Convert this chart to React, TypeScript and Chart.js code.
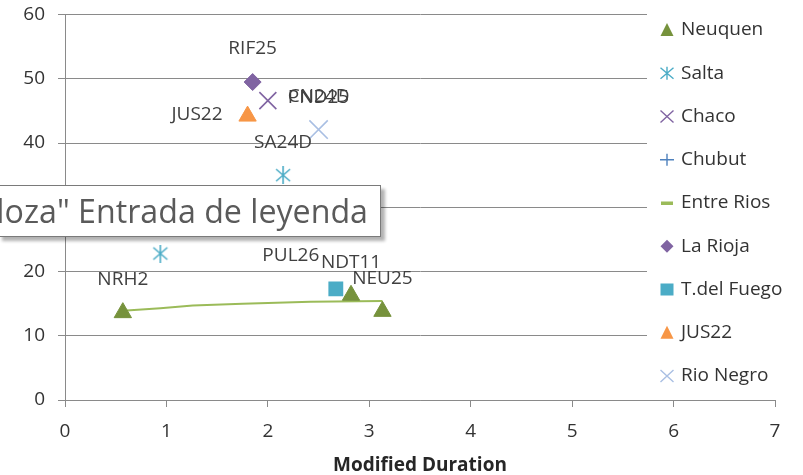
import React, { useEffect, useRef } from "react";
import { Chart, registerables } from "chart.js";

Chart.register(...registerables);

// ---------------- data ----------------
const xTickValues = [0, 1, 2, 3, 4, 5, 6, 7];
const yTickValues = [0, 10, 20, 30, 40, 50, 60];
const xAxisTitle = "Modified Duration";

const seriesNames = [
  "Neuquen",
  "Salta",
  "Chaco",
  "Chubut",
  "Entre Rios",
  "La Rioja",
  "T.del Fuego",
  "JUS22",
  "Rio Negro",
];

const neuquenX = [0.57, 2.82, 3.13];
const neuquenY = [13.6, 16.3, 13.8];
const neuquenLabels = ["NRH2", "NDT11", "NEU25"];

const saltaX = [2.15, 0.94];
const saltaY = [35.0, 22.8];
const saltaLabels = ["SA24D", ""];

const chacoX = [2.0];
const chacoY = [46.6];
const chacoLabels = ["PND25"];

const chubutX: number[] = [];
const chubutY: number[] = [];
const chubutLabels: string[] = [];

const entreRiosX = [0.57, 0.94, 1.26, 1.75, 2.42, 3.13];
const entreRiosY = [13.9, 14.3, 14.7, 15.0, 15.3, 15.4];

const laRiojaX = [1.85];
const laRiojaY = [49.5];
const laRiojaLabels = ["RIF25"];

const fuegoX = [2.67];
const fuegoY = [17.3];
const fuegoLabels = ["PUL26"];

const jusX = [1.8];
const jusY = [44.2];
const jusLabels = ["JUS22"];

const rioNegroX = [2.5];
const rioNegroY = [42.1];
const rioNegroLabels = ["CN24D"];

const hoverTipText = 'Serie "Mendoza" Entrada de leyenda';

// ---------------- styles ----------------
const FONT = "'Open Sans', 'Noto Sans', sans-serif";
const GRID = "#8a8a8a";
const TICK = "#333333";
const LABEL = "#404040";

const labelPlacement: Record<string, string> = {
  PND25: "right",
  JUS22: "left",
  PUL26: "aboveLeft",
};

const seriesStyle: Record<string, { marker: string; color: string }> = {
  Neuquen: { marker: "triangle", color: "#76923C" },
  Salta: { marker: "asterisk", color: "#4BACC6" },
  Chaco: { marker: "x", color: "#8064A2" },
  Chubut: { marker: "plus", color: "#4F81BD" },
  "Entre Rios": { marker: "line", color: "#9BBB59" },
  "La Rioja": { marker: "diamond", color: "#8064A2" },
  "T.del Fuego": { marker: "square", color: "#4BACC6" },
  JUS22: { marker: "triangle", color: "#F79646" },
  "Rio Negro": { marker: "x", color: "#A9BFE3" },
};

function pts(xs: number[], ys: number[]) {
  return xs.map((x, i) => ({ x, y: ys[i] }));
}

function makeAsterisk(color: string) {
  const c = document.createElement("canvas");
  c.width = 18;
  c.height = 18;
  const g = c.getContext("2d")!;
  g.strokeStyle = color;
  g.lineWidth = 1.6;
  g.beginPath();
  g.moveTo(2, 3);
  g.lineTo(16, 15);
  g.moveTo(16, 3);
  g.lineTo(2, 15);
  g.moveTo(9, 0);
  g.lineTo(9, 18);
  g.stroke();
  return c;
}

function drawLegendMarker(ctx: CanvasRenderingContext2D, kind: string, x: number, y: number, color: string) {
  ctx.save();
  ctx.fillStyle = color;
  ctx.strokeStyle = color;
  ctx.lineWidth = 1.4;
  ctx.beginPath();
  switch (kind) {
    case "triangle":
      ctx.moveTo(x, y - 7);
      ctx.lineTo(x + 6.5, y + 6);
      ctx.lineTo(x - 6.5, y + 6);
      ctx.closePath();
      ctx.fill();
      break;
    case "asterisk":
      ctx.moveTo(x - 6.5, y - 5.5);
      ctx.lineTo(x + 6.5, y + 5.5);
      ctx.moveTo(x + 6.5, y - 5.5);
      ctx.lineTo(x - 6.5, y + 5.5);
      ctx.moveTo(x, y - 6.5);
      ctx.lineTo(x, y + 6.5);
      ctx.stroke();
      break;
    case "x":
      ctx.moveTo(x - 6.5, y - 6);
      ctx.lineTo(x + 6.5, y + 6);
      ctx.moveTo(x + 6.5, y - 6);
      ctx.lineTo(x - 6.5, y + 6);
      ctx.stroke();
      break;
    case "plus":
      ctx.moveTo(x - 7, y);
      ctx.lineTo(x + 7, y);
      ctx.moveTo(x, y - 6);
      ctx.lineTo(x, y + 6);
      ctx.stroke();
      break;
    case "line":
      ctx.fillRect(x - 6, y - 1.5, 12, 3.5);
      break;
    case "diamond":
      ctx.moveTo(x, y - 6.5);
      ctx.lineTo(x + 6.5, y);
      ctx.lineTo(x, y + 6.5);
      ctx.lineTo(x - 6.5, y);
      ctx.closePath();
      ctx.fill();
      break;
    case "square":
      ctx.fillRect(x - 6.5, y - 6, 13, 12);
      break;
  }
  ctx.restore();
}

const pointLabelPlugin = {
  id: "pointLabels",
  afterDatasetsDraw(chart: any) {
    const ctx: CanvasRenderingContext2D = chart.ctx;
    ctx.save();
    ctx.font = `19px ${FONT}`;
    ctx.fillStyle = LABEL;
    ctx.textBaseline = "middle";
    chart.data.datasets.forEach((ds: any, di: number) => {
      const labels: string[] | undefined = ds.pointLabels;
      if (!labels) return;
      const meta = chart.getDatasetMeta(di);
      meta.data.forEach((el: any, i: number) => {
        const txt = labels[i];
        if (!txt) return;
        const place = labelPlacement[txt] || "above";
        let x = el.x;
        let y = el.y;
        if (place === "above") {
          ctx.textAlign = "center";
          y -= 33;
        } else if (place === "right") {
          ctx.textAlign = "left";
          x += 20;
          y -= 3;
        } else if (place === "left") {
          ctx.textAlign = "right";
          x -= 25;
          y -= 1;
        } else if (place === "aboveLeft") {
          ctx.textAlign = "center";
          x -= 45;
          y -= 33;
        }
        ctx.fillText(txt, x, y);
      });
    });
    ctx.restore();
  },
};

const legendPlugin = {
  id: "sideLegend",
  afterDraw(chart: any) {
    const ctx: CanvasRenderingContext2D = chart.ctx;
    ctx.save();
    ctx.fillStyle = "#ffffff";
    ctx.fillRect(647, 0, 803 - 647, 393);
    ctx.font = `19px ${FONT}`;
    ctx.textAlign = "left";
    ctx.textBaseline = "middle";
    seriesNames.forEach((name, i) => {
      const y = 30 + i * 43.25;
      const st = seriesStyle[name];
      drawLegendMarker(ctx, st.marker, 667, y, st.color);
      ctx.fillStyle = "#333333";
      ctx.fillText(name, 681, y);
    });
    ctx.restore();
  },
};

export default function App() {
  const canvasRef = useRef<HTMLCanvasElement | null>(null);

  useEffect(() => {
    const canvas = canvasRef.current;
    if (!canvas) return;
    const asterisk = makeAsterisk(seriesStyle["Salta"].color);
    const s = seriesStyle;
    const chart = new Chart(canvas, {
      type: "scatter",
      data: {
        datasets: [
          {
            label: "Neuquen",
            data: pts(neuquenX, neuquenY),
            pointStyle: "triangle",
            pointRadius: 10,
            pointBackgroundColor: s["Neuquen"].color,
            pointBorderColor: s["Neuquen"].color,
            pointBorderWidth: 1,
            pointLabels: neuquenLabels,
          } as any,
          {
            label: "Salta",
            data: pts(saltaX, saltaY),
            pointStyle: asterisk,
            pointRadius: 9,
            pointLabels: saltaLabels,
          } as any,
          {
            label: "Chaco",
            data: pts(chacoX, chacoY),
            pointStyle: "crossRot",
            pointRadius: 12,
            pointBorderColor: s["Chaco"].color,
            pointBorderWidth: 1.6,
            pointLabels: chacoLabels,
          } as any,
          {
            label: "Chubut",
            data: pts(chubutX, chubutY),
            pointStyle: "cross",
            pointRadius: 9,
            pointBorderColor: s["Chubut"].color,
            pointBorderWidth: 1.6,
            pointLabels: chubutLabels,
          } as any,
          {
            label: "Entre Rios",
            data: pts(entreRiosX, entreRiosY),
            showLine: true,
            pointRadius: 0,
            borderColor: s["Entre Rios"].color,
            borderWidth: 2,
            tension: 0,
          } as any,
          {
            label: "La Rioja",
            data: pts(laRiojaX, laRiojaY),
            pointStyle: "rectRot",
            pointRadius: 8.5,
            pointBackgroundColor: s["La Rioja"].color,
            pointBorderColor: s["La Rioja"].color,
            pointBorderWidth: 1,
            pointLabels: laRiojaLabels,
          } as any,
          {
            label: "T.del Fuego",
            data: pts(fuegoX, fuegoY),
            pointStyle: "rect",
            pointRadius: 10.5,
            pointBackgroundColor: s["T.del Fuego"].color,
            pointBorderColor: s["T.del Fuego"].color,
            pointBorderWidth: 0,
            pointLabels: fuegoLabels,
          } as any,
          {
            label: "JUS22",
            data: pts(jusX, jusY),
            pointStyle: "triangle",
            pointRadius: 10,
            pointBackgroundColor: s["JUS22"].color,
            pointBorderColor: s["JUS22"].color,
            pointBorderWidth: 1,
            pointLabels: jusLabels,
          } as any,
          {
            label: "Rio Negro",
            data: pts(rioNegroX, rioNegroY),
            pointStyle: "crossRot",
            pointRadius: 13,
            pointBorderColor: s["Rio Negro"].color,
            pointBorderWidth: 1.6,
            pointLabels: rioNegroLabels,
          } as any,
        ],
      },
      options: {
        animation: false,
        responsive: false,
        devicePixelRatio: 1,
        layout: { padding: { left: 0, right: 28, top: 14, bottom: 0 } },
        plugins: {
          legend: { display: false },
          tooltip: { enabled: false },
        },
        events: [],
        scales: {
          x: {
            type: "linear",
            min: 0,
            max: 7,
            afterBuildTicks: (sc: any) => {
              sc.ticks = xTickValues.map((v) => ({ value: v }));
            },
            ticks: { font: { family: FONT, size: 19 }, color: TICK, padding: 13 },
            grid: { drawOnChartArea: false, drawTicks: true, tickLength: 7, color: GRID, lineWidth: 1 },
            border: { color: GRID, width: 1 },
            title: {
              display: true,
              text: xAxisTitle,
              font: { family: FONT, size: 19, weight: "bold" },
              color: "#262626",
              padding: { top: 0, bottom: -2 },
            },
            afterFit: (sc: any) => {
              sc.height = 75;
              sc.paddingLeft = 0;
              sc.paddingRight = 0;
            },
          },
          y: {
            type: "linear",
            min: 0,
            max: 60,
            afterBuildTicks: (sc: any) => {
              sc.ticks = yTickValues.map((v) => ({ value: v }));
            },
            ticks: { font: { family: FONT, size: 19 }, color: TICK, padding: 13 },
            grid: { drawTicks: true, tickLength: 7, color: GRID, lineWidth: 1 },
            border: { color: GRID, width: 1 },
            afterFit: (sc: any) => {
              sc.width = 65;
              sc.paddingTop = 0;
              sc.paddingBottom = 0;
            },
          },
        },
      } as any,
      plugins: [pointLabelPlugin, legendPlugin],
    });
    return () => chart.destroy();
  }, []);

  return (
    <div style={{ position: "absolute", left: 0, top: 0, width: 803, height: 475, background: "#fff", overflow: "hidden" }}>
      <canvas ref={canvasRef} width={803} height={475} style={{ position: "absolute", left: 0, top: 0 }} />
      <div
        style={{
          position: "absolute",
          left: -2,
          top: 185,
          width: 383,
          height: 52,
          boxSizing: "border-box",
          border: "1px solid #7a7a7a",
          background: "#fff",
          boxShadow: "4px 4px 3px rgba(0,0,0,0.3)",
          overflow: "hidden",
          display: "flex",
          justifyContent: "flex-end",
          alignItems: "flex-start",
          paddingTop: 9,
        }}
      >
        <span
          style={{
            whiteSpace: "nowrap",
            fontFamily: FONT,
            fontSize: 32.2,
            lineHeight: "31.5px",
            color: "#5a5a5a",
            marginRight: 12,
            flexShrink: 0,
          }}
        >
          {hoverTipText}
        </span>
      </div>
    </div>
  );
}
